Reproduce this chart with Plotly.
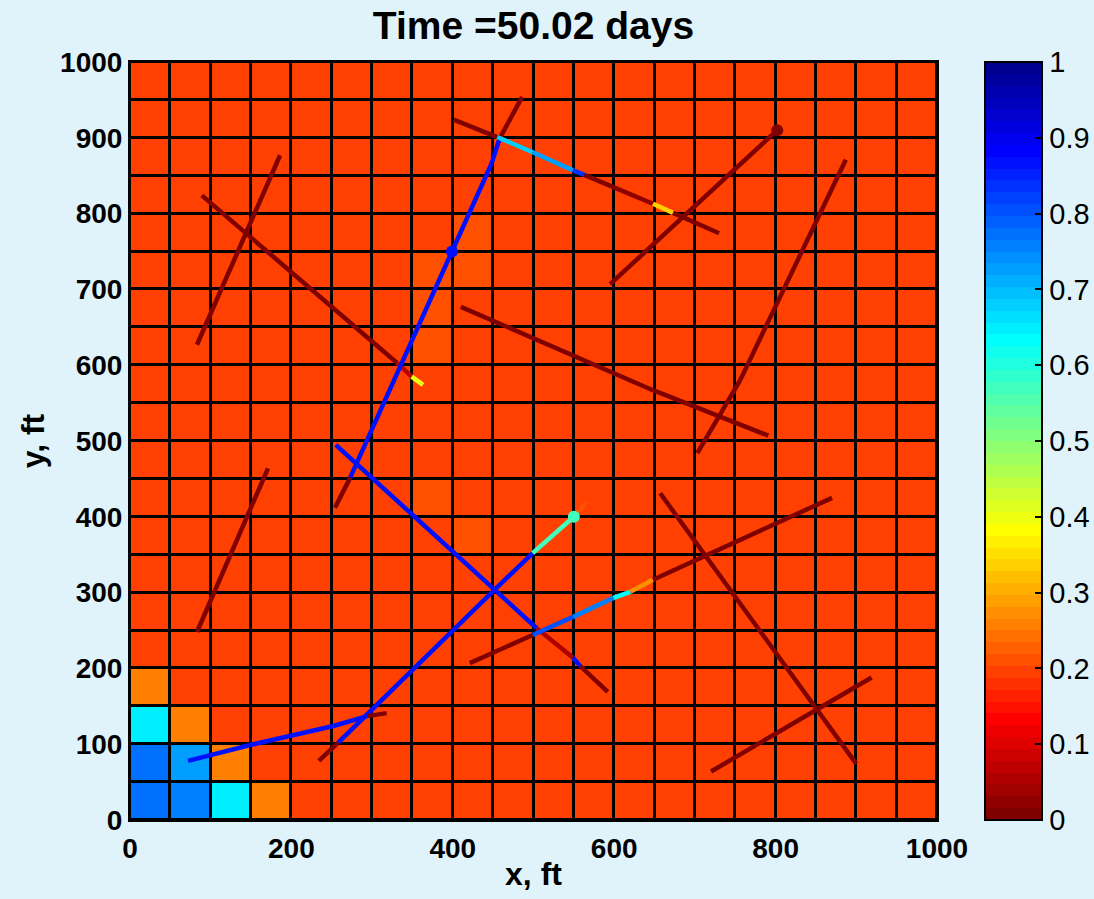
import math
import numpy as np
import plotly.graph_objects as go

# ---------------- data ----------------
# grid of 20 x 20 cells, 50 ft each (cell centres)
cell_x = [25 + 50 * i for i in range(20)]
cell_y = [25 + 50 * j for j in range(20)]
base_value = 0.19
# (column, row, value) for cells that differ from the base value
cell_overrides = [
    (0, 0, 0.78), (1, 0, 0.75), (2, 0, 0.655), (3, 0, 0.25),
    (0, 1, 0.78), (1, 1, 0.72), (2, 1, 0.26),
    (0, 2, 0.655), (1, 2, 0.25),
    (0, 3, 0.25),
    (8, 15, 0.205), (8, 14, 0.205), (7, 14, 0.205), (7, 13, 0.205), (7, 12, 0.205),
    (7, 8, 0.205), (8, 7, 0.205),
]

# fractures: polyline nodes (ft) and one value per segment
frac_x = [
    [83, 186],
    [89, 331, 349, 363],
    [83, 171],
    [254, 273, 399, 448, 458, 486],
    [401, 455, 499, 549, 563, 599, 648, 673, 730],
    [595, 802],
    [703, 756, 887],
    [410, 648, 791],
    [255, 504, 549, 558, 592],
    [234, 258, 450, 499, 550, 566],
    [72, 149, 252, 294, 318],
    [421, 499, 549, 599, 620, 648, 870],
    [657, 900],
    [720, 919],
]
frac_y = [
    [627, 877],
    [824, 603, 585, 574],
    [248, 464],
    [412, 452, 750, 866, 899, 954],
    [924, 901, 881, 857, 851, 835, 813, 801, 774],
    [707, 910],
    [484, 580, 871],
    [677, 567, 507],
    [495, 253, 214, 203, 169],
    [78, 102, 302, 352, 400, 420],
    [78, 99, 124, 137, 141],
    [207, 244, 268, 293, 301, 317, 425],
    [431, 74],
    [64, 188],
]
frac_v = [
    [0],
    [0, 0.07, 0.40],
    [0],
    [0, 0.86, 0.86, 0.86, 0],
    [0, 0.675, 0.725, 0.83, 0, 0.03, 0.34, 0],
    [0],
    [0, 0],
    [0, 0],
    [0.86, 0.06, 0.86, 0],
    [0, 0.86, 0.86, 0.575, 0.21],
    [0.86, 0.86, 0.86, 0],
    [0, 0.80, 0.75, 0.64, 0.28, 0],
    [0],
    [0],
]
# node markers
dot_x = [399, 550, 802]
dot_y = [750, 400, 910]
dot_v = [0.86, 0.575, 0]

x_ticks = [0, 200, 400, 600, 800, 1000]
y_ticks = [0, 100, 200, 300, 400, 500, 600, 700, 800, 900, 1000]
cb_ticks = [0, 0.1, 0.2, 0.3, 0.4, 0.5, 0.6, 0.7, 0.8, 0.9, 1]
cb_labels = ["0", "0.1", "0.2", "0.3", "0.4", "0.5", "0.6", "0.7", "0.8", "0.9", "1"]
title_text = "Time =50.02 days"


# ---------------- colormap (MATLAB jet(64), reversed) ----------------
def jet(n=64):
    m = math.ceil(n / 4)
    u = np.concatenate([np.arange(1, m + 1) / m, np.ones(m - 1), np.arange(m, 0, -1) / m])
    g = math.ceil(m / 2) - (1 if n % 4 == 1 else 0) + np.arange(1, len(u) + 1)
    r = g + m
    b = g - m
    g = g[g <= n]
    r = r[r <= n]
    b = b[b >= 1]
    J = np.zeros((n, 3))
    J[r - 1, 0] = u[:len(r)]
    J[g - 1, 1] = u[:len(g)]
    J[b - 1, 2] = u[len(u) - len(b):]
    return J


NC = 64
cmap = jet(NC)[::-1]


def rgb(k):
    c = cmap[k]
    return "rgb(%d,%d,%d)" % tuple(int(round(255 * t)) for t in c)


def color_of(v):
    k = min(max(int(v * NC), 0), NC - 1)
    return rgb(k)


colorscale = []
for k in range(NC):
    colorscale.append([k / NC, rgb(k)])
    colorscale.append([(k + 1) / NC, rgb(k)])

z = [[base_value] * 20 for _ in range(20)]
for c, r, v in cell_overrides:
    z[r][c] = v

# ---------------- figure ----------------
W, H = 1094, 899
ML, MR, MT, MB = 130, 157, 62, 79
PW = W - ML - MR
FAM = "Liberation Sans, Arial, sans-serif"
bold = dict(family=FAM, color="black", weight="bold")

fig = go.Figure()
cb_left_px = 985
cb_x = (cb_left_px - ML) / PW
fig.add_trace(go.Heatmap(
    x=cell_x, y=cell_y, z=z, zmin=0, zmax=1, colorscale=colorscale,
    xgap=3, ygap=3, hoverinfo="skip",
    colorbar=dict(
        x=cb_x, xanchor="left", xpad=0, ypad=0, y=0.5, yanchor="middle",
        len=1, lenmode="fraction", thickness=57, thicknessmode="pixels",
        outlinewidth=2, outlinecolor="black",
        tickmode="array", tickvals=cb_ticks, ticktext=cb_labels,
        ticks="inside", ticklen=8, tickwidth=2, tickcolor="black",
        tickfont=dict(size=29, family=FAM, color="black", weight="normal"),
    ),
))

for xs, ys, vs in zip(frac_x, frac_y, frac_v):
    for i, v in enumerate(vs):
        fig.add_trace(go.Scatter(
            x=[xs[i], xs[i + 1]], y=[ys[i], ys[i + 1]], mode="lines",
            line=dict(color=color_of(v), width=4.5),
            showlegend=False, hoverinfo="skip",
        ))

fig.add_trace(go.Scatter(
    x=dot_x, y=dot_y, mode="markers",
    marker=dict(size=12, color=[color_of(v) for v in dot_v], line=dict(width=0)),
    showlegend=False, hoverinfo="skip",
))

# colorbar ticks on the left side of the bar (MATLAB style)
shapes = []
for v in cb_ticks[1:-1]:
    shapes.append(dict(type="line", xref="paper", yref="paper",
                       x0=cb_x, x1=cb_x + 8 / PW, y0=v, y1=v,
                       line=dict(color="black", width=2)))

axis_common = dict(
    range=[0, 1000], showgrid=False, zeroline=False, showline=True,
    linecolor="black", linewidth=2, mirror=True, ticks="",
    tickfont=dict(size=28, **bold), tickmode="array",
)

fig.update_layout(
    width=W, height=H,
    margin=dict(l=ML, r=MR, t=MT, b=MB, pad=0, autoexpand=False),
    paper_bgcolor="#e0f3fb", plot_bgcolor="black",
    shapes=shapes,
    title=dict(text=title_text, x=0.5, xref="paper", xanchor="center",
               y=1 - 25 / H, yref="container", yanchor="middle",
               font=dict(size=39, **bold)),
    xaxis=dict(**axis_common, tickvals=x_ticks, ticklabelstandoff=2,
               title=dict(text="x, ft", font=dict(size=32, **bold), standoff=0)),
    yaxis=dict(**axis_common, tickvals=y_ticks, ticklabelstandoff=0,
               title=dict(text="y, ft", font=dict(size=32, **bold), standoff=6)),
    showlegend=False,
)

fig.write_html("out.html")
